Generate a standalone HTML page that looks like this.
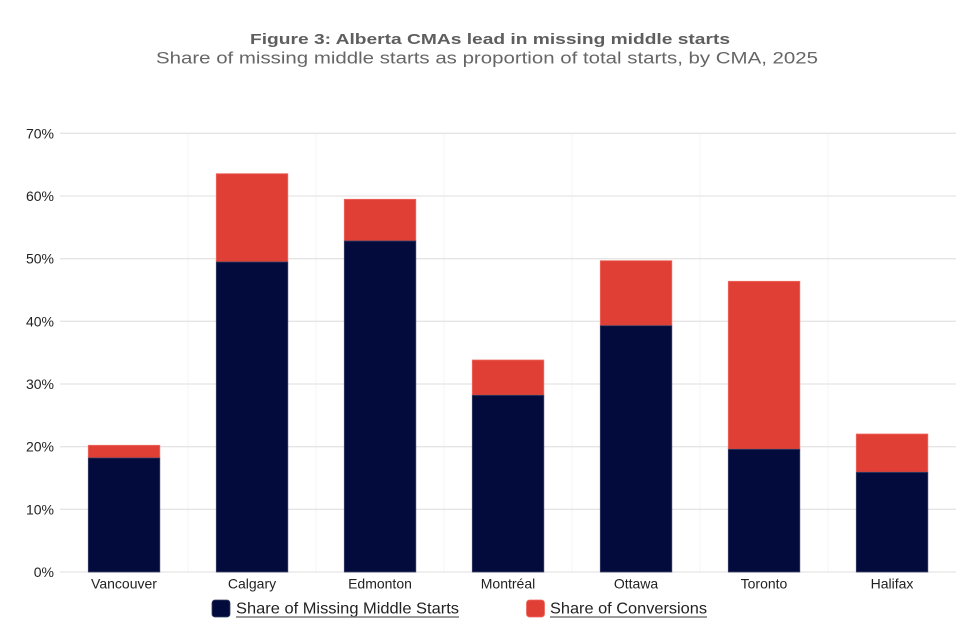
<!DOCTYPE html>
<html>
<head>
<meta charset="utf-8">
<style>
  html, body { margin: 0; padding: 0; background: #ffffff; }
  body { width: 980px; height: 632px; overflow: hidden; }
  svg { display: block; }
  text { font-family: "Liberation Sans", Arial, sans-serif; }
</style>
</head>
<body>
<svg width="980" height="632" viewBox="0 0 980 632" xmlns="http://www.w3.org/2000/svg">
  <rect x="0" y="0" width="980" height="632" fill="#ffffff"/>

  <!-- Title -->
  <text x="490" y="44" text-anchor="middle" font-size="15" font-weight="bold" fill="#5e5e5e" textLength="480" lengthAdjust="spacingAndGlyphs">Figure 3: Alberta CMAs lead in missing middle starts</text>
  <text x="487" y="63.5" text-anchor="middle" font-size="17" fill="#666666" textLength="662" lengthAdjust="spacingAndGlyphs">Share of missing middle starts as proportion of total starts, by CMA, 2025</text>

  <!-- vertical faint gridlines -->
  <g stroke="#f4f4f4" stroke-width="1">
    <line x1="188" y1="133" x2="188" y2="572"/>
    <line x1="316" y1="133" x2="316" y2="572"/>
    <line x1="444" y1="133" x2="444" y2="572"/>
    <line x1="572" y1="133" x2="572" y2="572"/>
    <line x1="700" y1="133" x2="700" y2="572"/>
    <line x1="828" y1="133" x2="828" y2="572"/>
  </g>

  <!-- horizontal gridlines -->
  <g stroke="#e5e5e5" stroke-width="1.3">
    <line x1="60" y1="133.3" x2="956" y2="133.3"/>
    <line x1="60" y1="196" x2="956" y2="196"/>
    <line x1="60" y1="258.7" x2="956" y2="258.7"/>
    <line x1="60" y1="321.3" x2="956" y2="321.3"/>
    <line x1="60" y1="384" x2="956" y2="384"/>
    <line x1="60" y1="446.7" x2="956" y2="446.7"/>
    <line x1="60" y1="509.3" x2="956" y2="509.3"/>
    <line x1="60" y1="572" x2="956" y2="572"/>
  </g>

  <!-- Y labels -->
  <g font-size="14" fill="#222222" text-anchor="end">
    <text x="54" y="138.5">70%</text>
    <text x="54" y="201">60%</text>
    <text x="54" y="263.5">50%</text>
    <text x="54" y="326.5">40%</text>
    <text x="54" y="389">30%</text>
    <text x="54" y="451.5">20%</text>
    <text x="54" y="514.5">10%</text>
    <text x="54" y="577">0%</text>
  </g>

  <!-- Bars -->
  <g stroke-width="0.8">
    <rect x="88.3" y="445.3" width="71.5" height="12.7" fill="#e03f36" stroke="#ee6a62"/>
    <rect x="88.3" y="458" width="71.5" height="114" fill="#020b3b" stroke="#3a4166"/>
    <rect x="216.3" y="173.7" width="71.5" height="88.3" fill="#e03f36" stroke="#ee6a62"/>
    <rect x="216.3" y="262" width="71.5" height="310" fill="#020b3b" stroke="#3a4166"/>
    <rect x="344.3" y="199.3" width="71.5" height="41.7" fill="#e03f36" stroke="#ee6a62"/>
    <rect x="344.3" y="241" width="71.5" height="331" fill="#020b3b" stroke="#3a4166"/>
    <rect x="472.3" y="360" width="71.5" height="35.3" fill="#e03f36" stroke="#ee6a62"/>
    <rect x="472.3" y="395.3" width="71.5" height="176.7" fill="#020b3b" stroke="#3a4166"/>
    <rect x="600.3" y="260.7" width="71.5" height="65" fill="#e03f36" stroke="#ee6a62"/>
    <rect x="600.3" y="325.7" width="71.5" height="246.3" fill="#020b3b" stroke="#3a4166"/>
    <rect x="728.3" y="281.3" width="71.5" height="168" fill="#e03f36" stroke="#ee6a62"/>
    <rect x="728.3" y="449.3" width="71.5" height="122.7" fill="#020b3b" stroke="#3a4166"/>
    <rect x="856.3" y="434" width="71.5" height="38.3" fill="#e03f36" stroke="#ee6a62"/>
    <rect x="856.3" y="472.3" width="71.5" height="99.7" fill="#020b3b" stroke="#3a4166"/>
  </g>

  <!-- X labels -->
  <g font-size="14" fill="#222222" text-anchor="middle">
    <text x="124" y="588.3">Vancouver</text>
    <text x="252" y="588.3">Calgary</text>
    <text x="380" y="588.3">Edmonton</text>
    <text x="508" y="588.3">Montréal</text>
    <text x="636" y="588.3">Ottawa</text>
    <text x="764" y="588.3">Toronto</text>
    <text x="892" y="588.3">Halifax</text>
  </g>

  <!-- Legend -->
  <rect x="212" y="600" width="18" height="17" rx="3" ry="3" fill="#020b3b" stroke="#3a4166" stroke-width="0.8"/>
  <text x="236" y="613.5" font-size="16" fill="#222222" textLength="223" lengthAdjust="spacingAndGlyphs">Share of Missing Middle Starts</text>
  <line x1="236" y1="617" x2="459" y2="617" stroke="#7a7a7a" stroke-width="1.5"/>

  <rect x="526.5" y="600" width="18" height="17" rx="3" ry="3" fill="#e03f36" stroke="#ee6a62" stroke-width="0.8"/>
  <text x="550" y="613.5" font-size="16" fill="#222222" textLength="157" lengthAdjust="spacingAndGlyphs">Share of Conversions</text>
  <line x1="550" y1="617" x2="707" y2="617" stroke="#7a7a7a" stroke-width="1.5"/>
</svg>
</body>
</html>
